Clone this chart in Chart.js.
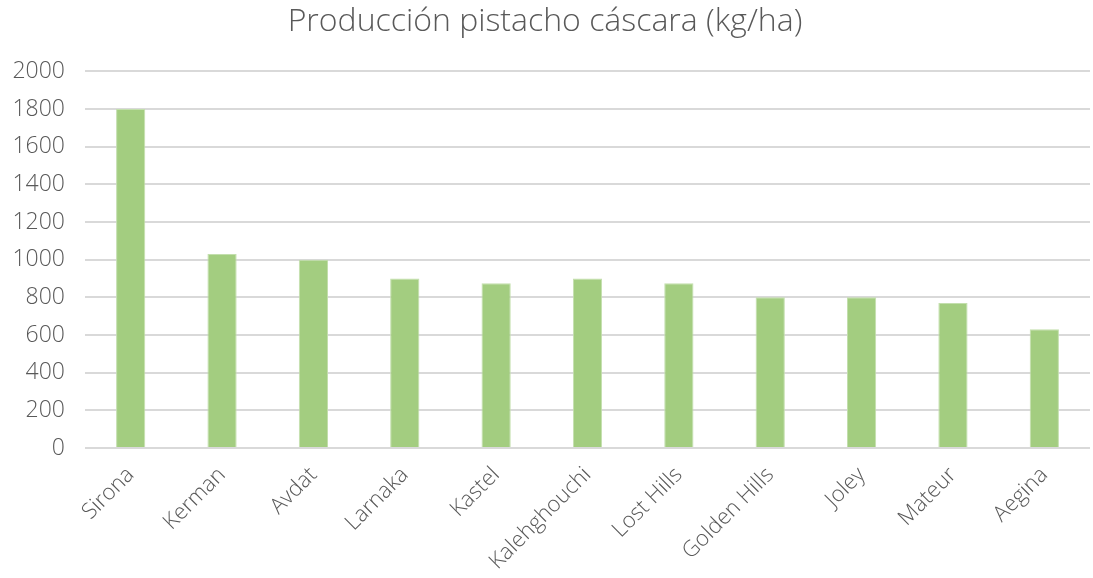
<!DOCTYPE html>
<html>
<head>
<meta charset="utf-8">
<script src="https://cdn.jsdelivr.net/npm/chart.js@4"></script>
<style>
  html, body { margin: 0; padding: 0; background: #fff; }
  #wrap { width: 1093px; height: 578px; }
</style>
</head>
<body>
<div id="wrap"><canvas id="chart"></canvas></div>
<script>
const varieties = ['Sirona', 'Kerman', 'Avdat', 'Larnaka', 'Kastel', 'Kalehghouchi', 'Lost Hills', 'Golden Hills', 'Joley', 'Mateur', 'Aegina'];
const production = [1800, 1030, 1000, 900, 875, 900, 875, 800, 800, 770, 630];
const yTicks = [0, 200, 400, 600, 800, 1000, 1200, 1400, 1600, 1800, 2000];

const ctx = document.getElementById('chart').getContext('2d');
new Chart(ctx, {
    type: 'bar',
    data: {
        labels: varieties,
        datasets: [{
            label: 'Producción pistacho cáscara (kg/ha)',
            data: production,
            backgroundColor: '#a3cd80',
            borderColor: '#c3dfad',
            borderWidth: 1,
            barPercentage: 0.32,
            categoryPercentage: 1
        }]
    },
    options: {
        responsive: true,
        maintainAspectRatio: false,
        animation: false,
        layout: { padding: { left: 0, right: 3, top: 0, bottom: 0 } },
        plugins: {
            legend: { display: false },
            tooltip: { enabled: false },
            title: {
                display: true,
                text: 'Producción pistacho cáscara (kg/ha)',
                color: '#595959',
                font: { family: 'Open Sans', size: 32, weight: '300' },
                padding: { top: 3, bottom: 30 }
            }
        },
        scales: {
            x: {
                grid: { display: false },
                border: { display: false },
                ticks: {
                    color: '#595959',
                    font: { family: 'Open Sans', size: 22, weight: '300' },
                    maxRotation: 45,
                    minRotation: 45,
                    padding: 6
                },
                afterFit: (scale) => { scale.height = 130; }
            },
            y: {
                min: 0,
                max: 2000,
                afterBuildTicks: (scale) => { scale.ticks = yTicks.map(v => ({ value: v })); },
                grid: { color: '#d9d9d9', lineWidth: 2, drawTicks: false },
                border: { display: false },
                ticks: {
                    color: '#595959',
                    font: { family: 'Open Sans', size: 23, weight: '300' },
                    padding: 20,
                    callback: (v) => String(v)
                },
                afterFit: (scale) => { scale.width = 85; }
            }
        }
    }
});
</script>
</body>
</html>
